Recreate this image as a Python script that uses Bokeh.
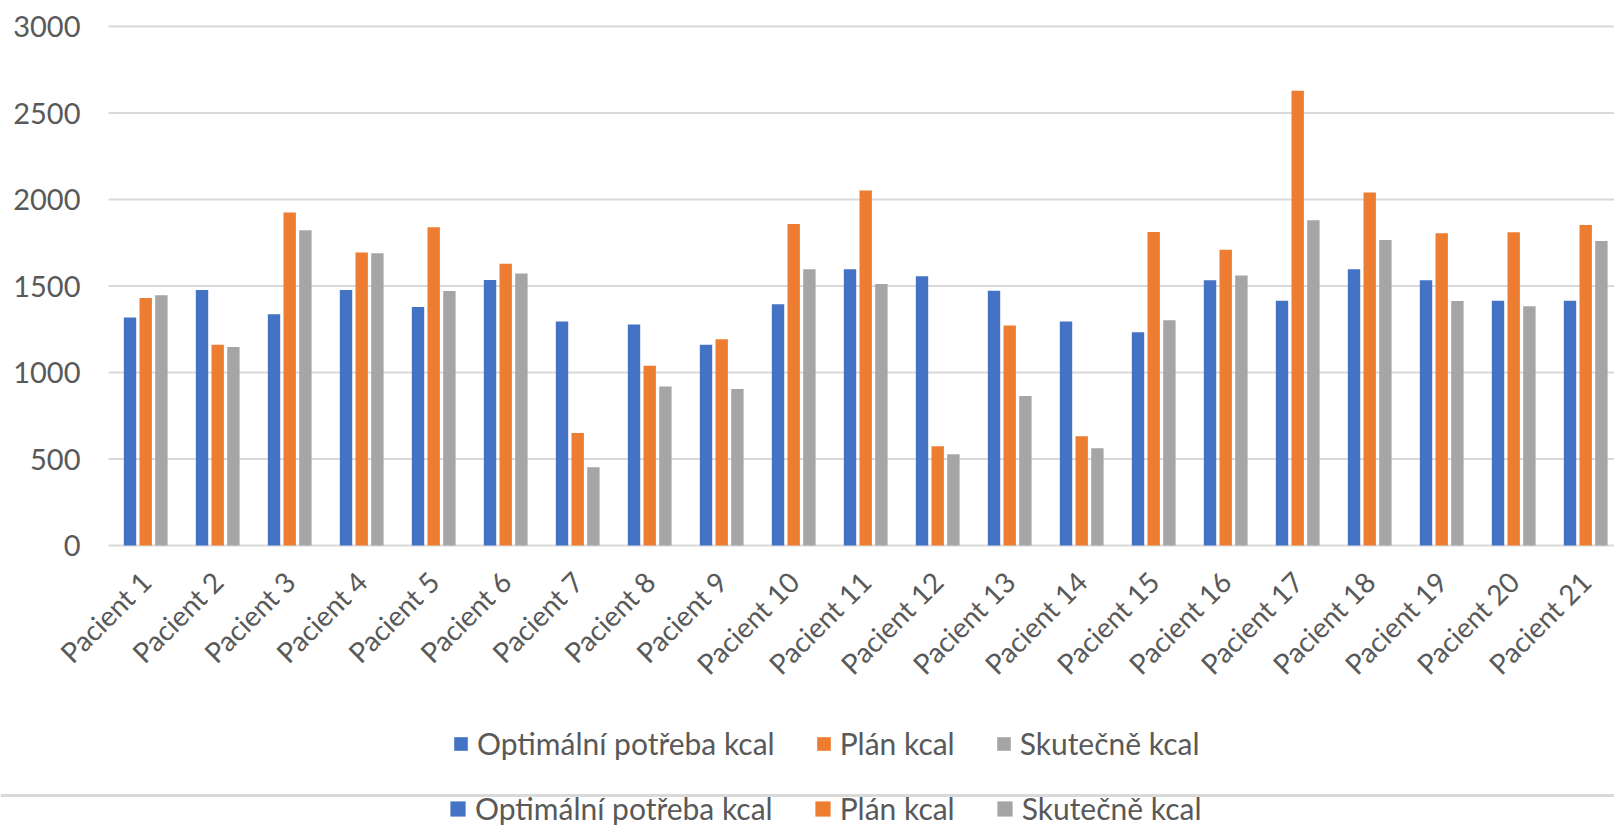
from math import pi

from bokeh.plotting import figure
from bokeh.models import (ColumnDataSource, Range1d, Legend, LegendItem, Span)
from bokeh.core.properties import value
from bokeh.transform import dodge
from bokeh.embed import file_html
from bokeh.resources import INLINE

# --- data -------------------------------------------------------------
patients = ["Pacient 1", "Pacient 2", "Pacient 3", "Pacient 4", "Pacient 5",
            "Pacient 6", "Pacient 7", "Pacient 8", "Pacient 9", "Pacient 10",
            "Pacient 11", "Pacient 12", "Pacient 13", "Pacient 14", "Pacient 15",
            "Pacient 16", "Pacient 17", "Pacient 18", "Pacient 19", "Pacient 20",
            "Pacient 21"]

optimal_kcal = [1318, 1477, 1337, 1477, 1378, 1535, 1295, 1277, 1161, 1395, 1597,
                1556, 1473, 1295, 1233, 1533, 1415, 1597, 1533, 1415, 1415]
plan_kcal = [1430, 1161, 1925, 1694, 1839, 1628, 650, 1039, 1192, 1859, 2052,
             574, 1271, 632, 1812, 1709, 2628, 2041, 1805, 1810, 1852]
actual_kcal = [1446, 1147, 1822, 1690, 1471, 1572, 452, 919, 905, 1597, 1512,
               527, 864, 562, 1302, 1560, 1880, 1766, 1414, 1383, 1760]

series_names = ["Optimální potřeba kcal", "Plán kcal", "Skutečně kcal"]
series_colors = ["#4472C4", "#ED7D31", "#A5A5A5"]
y_ticks = [0, 500, 1000, 1500, 2000, 2500, 3000]
y_tick_labels = ["0", "500", "1000", "1500", "2000", "2500", "3000"]

# --- styling / page geometry --------------------------------------------
FONT = "Lato"
TEXT_COLOR = "#595959"
GRID_COLOR = "#d9d9d9"

W, H = 1614, 829
TOP = 10
PLOT_LEFT_PX = 108             # where the value grid starts
ZERO_PX, TOP_TICK_PX = 545, 26  # page rows of 0 and 3000 kcal
FIRST_GROUP_PX, GROUP_STEP_PX = 145.2, 72.0

px_per_kcal = (ZERO_PX - TOP_TICK_PX) / 3000.0
x_lo = 1 - FIRST_GROUP_PX / GROUP_STEP_PX
x_hi = x_lo + W / GROUP_STEP_PX
grid_x0 = 1 - (FIRST_GROUP_PX - PLOT_LEFT_PX) / GROUP_STEP_PX

# the frame fills the page so that tick labels, category labels and the
# legends can all be placed freely
y_lo = -(H - ZERO_PX) / px_per_kcal
y_hi = (ZERO_PX - TOP) / px_per_kcal

idx = list(range(1, len(patients) + 1))
source = ColumnDataSource(dict(idx=idx, label=patients, optimal=optimal_kcal,
                               plan=plan_kcal, actual=actual_kcal))
ticks = ColumnDataSource(dict(y=y_ticks, label=y_tick_labels,
                              x0=[grid_x0] * len(y_ticks),
                              x1=[x_hi] * len(y_ticks)))

p = figure(width=W, height=H,
           x_range=Range1d(x_lo, x_hi), y_range=Range1d(y_lo, y_hi),
           output_backend="svg", toolbar_location=None,
           min_border_left=0, min_border_right=0,
           min_border_top=TOP, min_border_bottom=0)
p.outline_line_color = None
p.background_fill_color = "white"
p.border_fill_color = "white"
p.xaxis.visible = False
p.yaxis.visible = False
p.grid.visible = False

# horizontal value grid (the 0 line doubles as the category axis line)
p.segment(x0="x0", x1="x1", y0="y", y1="y", source=ticks,
          line_color=GRID_COLOR, line_width=2)

# value tick labels
p.text(x="x0", y="y", text="label", source=ticks, x_offset=-28,
       text_align="right", text_baseline="middle",
       text_font=value(FONT), text_font_size="29px", text_color=TEXT_COLOR)

# grouped bars
bar_w = 0.172
offsets = [-0.218, 0.0, 0.218]
renderers = []
for col, off, color in zip(["optimal", "plan", "actual"], offsets, series_colors):
    r = p.vbar(x=dodge("idx", off), top=col, width=bar_w, bottom=0,
               source=source, fill_color=color, line_color=None)
    renderers.append(r)

# category labels, slanted under each group
p.text(x="idx", y=0, text="label", source=source, angle=pi / 4,
       y_offset=31, text_align="right", text_baseline="middle",
       text_font=value(FONT), text_font_size="28px", text_color=TEXT_COLOR)


def make_legend(x, y, glyph, spacing):
    items = [LegendItem(label=n, renderers=[r]) for n, r in zip(series_names, renderers)]
    return Legend(items=items, orientation="horizontal", location=(x, y),
                  padding=0, margin=0, spacing=spacing,
                  glyph_width=glyph, glyph_height=glyph, label_standoff=8,
                  border_line_color=None, background_fill_alpha=0,
                  label_text_font=FONT, label_text_font_size="30px",
                  label_text_color=TEXT_COLOR)


# legend under the category labels
p.add_layout(make_legend(452, 68, 17, 40))

# thin grey rule between the two legends
rule_y = -(795 - ZERO_PX) / px_per_kcal
p.add_layout(Span(location=rule_y, dimension="width",
                  line_color=GRID_COLOR, line_width=3))

# repeated legend at the bottom edge
p.add_layout(make_legend(448, 3, 19, 40))

open("out.html", "w").write(file_html(p, INLINE))
